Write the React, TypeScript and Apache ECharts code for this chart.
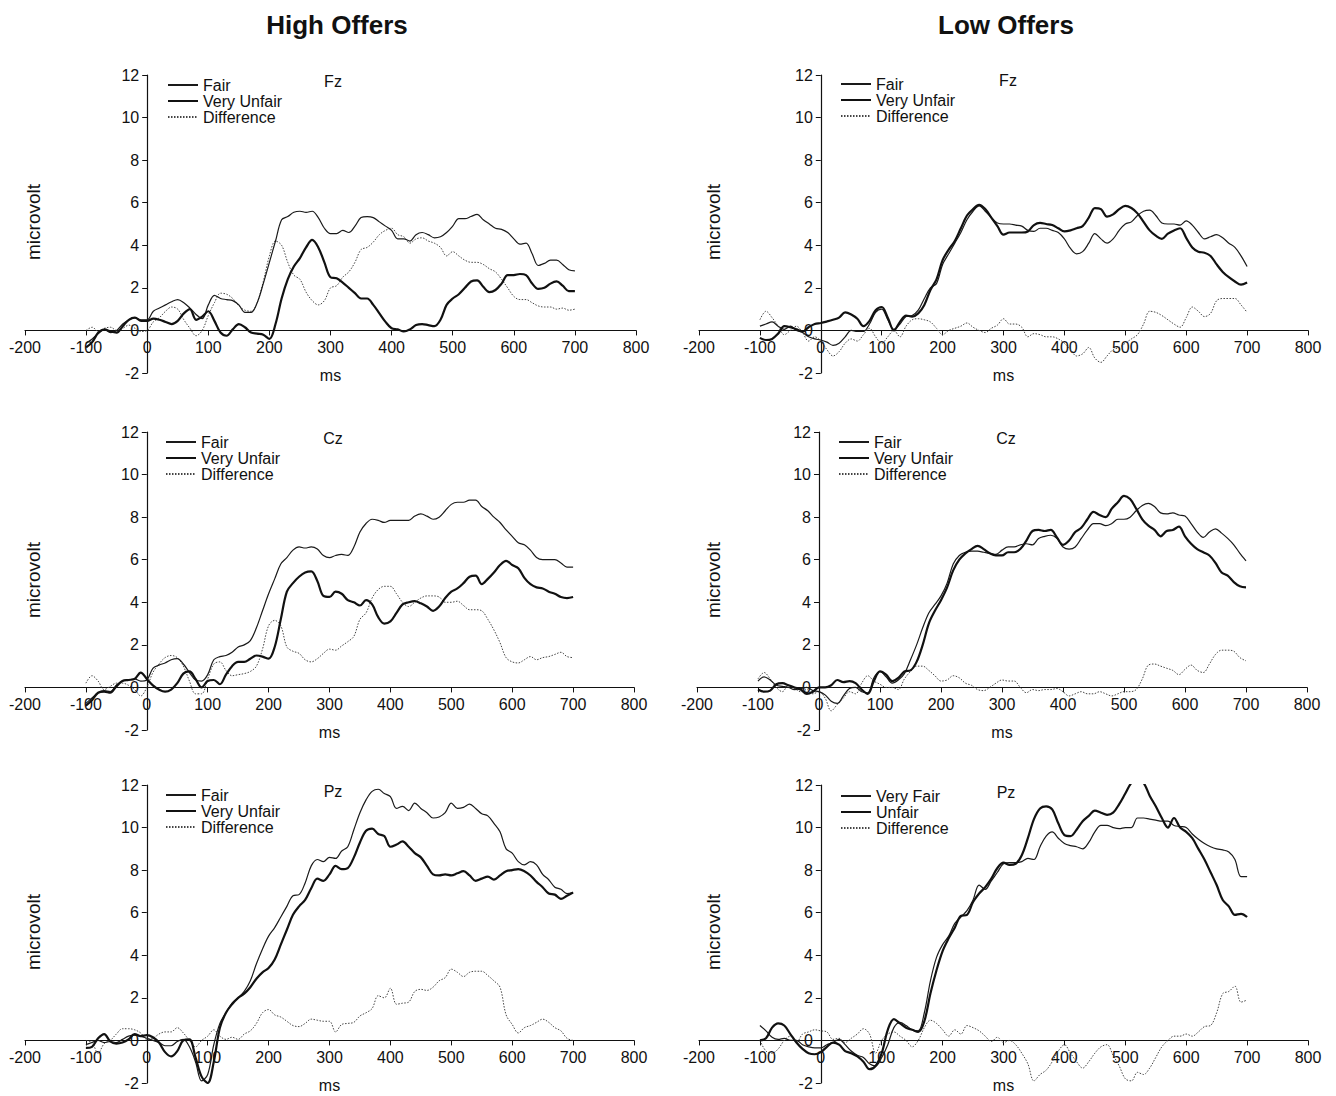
import React, { useEffect, useRef } from "react";
import * as echarts from "echarts";

// sampling times (ms), -100 .. 700 every 10 ms
const times: number[] = [];
for (let t = -100; t <= 700; t += 10) times.push(t);

const xTicks = { min: -200, max: 800, interval: 100 };
const yTicks = { min: -2, max: 12, interval: 2 };

const columnTitles = ["High Offers", "Low Offers"];
const electrodes = ["Fz", "Fz", "Cz", "Cz", "Pz", "Pz"];

// ---------- High Offers, Fz ----------
const hoFzFair = [
  -0.6, -0.4, -0.15, 0.05, -0.1, 0.0, 0.3, 0.5, 0.6, 0.5,
  0.5, 0.9, 1.05, 1.2, 1.35, 1.45, 1.3, 1.05, 0.75, 0.55,
  1.2, 1.65, 1.5, 1.45, 1.4, 1.2, 0.85, 0.85, 1.3, 2.2,
  3.2, 4.2, 5.2, 5.35, 5.55, 5.6, 5.55, 5.6, 5.3, 4.8,
  4.55, 4.55, 4.7, 4.6, 4.9, 5.3, 5.35, 5.3, 5.1, 4.9,
  4.7, 4.3, 4.3, 4.2, 4.5, 4.6, 4.5, 4.35, 4.4, 4.6,
  4.9, 5.25, 5.25, 5.35, 5.45, 5.2, 5.0, 4.8, 4.75, 4.6,
  4.3, 4.05, 4.1, 3.6, 3.05, 3.15, 3.3, 3.3, 3.1, 2.85,
  2.8,
];
const hoFzUnfair = [
  -0.8, -0.55, -0.1, 0.05, -0.05, -0.1, 0.2, 0.5, 0.6, 0.45,
  0.45, 0.55, 0.5, 0.4, 0.3, 0.45, 0.8, 1.0, 0.5, 0.65,
  0.9, 0.45, -0.1, -0.25, 0.05, 0.3, 0.15, -0.1, -0.15, -0.2,
  -0.4, 0.3, 1.5, 2.4, 3.0, 3.4, 3.9, 4.25, 3.9, 3.2,
  2.5, 2.45, 2.25, 2.0, 1.75, 1.5, 1.5, 1.2, 0.8, 0.4,
  0.1, 0.05, -0.05, 0.05, 0.25, 0.3, 0.25, 0.2, 0.5, 1.2,
  1.5, 1.7, 2.0, 2.3, 2.35, 2.05, 1.8, 1.9, 2.2, 2.6,
  2.6, 2.65, 2.6, 2.2, 1.95, 2.0, 2.2, 2.3, 2.1, 1.85,
  1.85,
];
const hoFzDiff = [
  0.0, 0.15, -0.05, 0.1, 0.15, 0.0, 0.1, 0.25, 0.1, -0.05,
  0.0, 0.4, 0.6, 0.9, 1.1, 1.0, 0.5, 0.1, -0.25, 0.0,
  0.7, 1.3, 1.75, 1.7, 1.5, 1.15, 0.95, 0.9, 1.3, 2.3,
  3.5, 4.2, 4.0, 3.2, 2.6, 2.4, 1.8, 1.4, 1.2, 1.4,
  2.0, 2.1, 2.5, 2.75, 3.2, 3.8, 3.9, 4.15, 4.5, 4.7,
  4.8, 4.5, 4.4, 4.1, 4.3, 4.35, 4.2, 4.1, 3.9, 3.5,
  3.7, 3.5, 3.3, 3.2, 3.2, 3.1, 2.9, 2.75, 2.4, 2.0,
  1.6, 1.45, 1.45, 1.3, 1.15, 1.1, 1.1, 1.0, 1.05, 0.95,
  1.0,
];

// ---------- Low Offers, Fz ----------
const loFzFair = [
  0.2, 0.3, 0.4, 0.2, 0.05, 0.2, 0.0, -0.1, -0.3, -0.4,
  -0.45, -0.55, -0.7, -0.6, -0.3, 0.0, -0.05, -0.05, 0.3, 0.85,
  1.0, 0.5, 0.05, 0.3, 0.65, 0.7, 0.95, 1.5, 2.0, 2.2,
  3.1, 3.6, 4.1, 4.6, 5.2, 5.6, 5.85, 5.6, 5.3, 5.05,
  5.0, 5.0, 4.95, 4.9, 4.7, 4.65, 4.8, 4.8, 4.7, 4.6,
  4.3, 3.85, 3.6, 3.7, 4.1, 4.55, 4.3, 4.1, 4.3, 4.7,
  5.0, 5.1, 5.4, 5.6, 5.65, 5.4, 5.05, 5.0, 5.0, 4.95,
  5.15, 4.95, 4.6, 4.3, 4.4, 4.5, 4.35, 4.1, 3.9, 3.5,
  3.0,
];
const loFzUnfair = [
  -0.35, -0.45, -0.4, -0.15, 0.2, 0.15, 0.05, -0.05, 0.15, 0.3,
  0.35, 0.42, 0.5, 0.6, 0.85, 0.75, 0.55, 0.2, 0.45, 0.95,
  1.1, 0.6, 0.0, 0.4, 0.7, 0.65, 0.8, 1.2, 1.9, 2.4,
  3.3, 3.8, 4.2, 4.8, 5.4, 5.7, 5.9, 5.7, 5.3, 4.9,
  4.5, 4.6, 4.6, 4.6, 4.65, 4.95, 5.05, 5.0, 4.95, 4.8,
  4.65, 4.7, 4.8, 4.9, 5.3, 5.75, 5.7, 5.35, 5.45, 5.7,
  5.85, 5.75, 5.5, 5.1, 4.7, 4.45, 4.3, 4.55, 4.7, 4.8,
  4.35, 3.9, 3.7, 3.65, 3.5, 3.1, 2.75, 2.5, 2.3, 2.15,
  2.25,
];
const loFzDiff = [
  0.5, 0.9, 0.6, 0.2, -0.2, 0.0, 0.2, -0.1, -0.5, -0.3,
  -0.5, -0.9, -1.2, -1.0, -0.6, -0.4, -0.5, -0.2, 0.1, -0.3,
  -0.6, -0.3, 0.0, -0.3, 0.2, 0.5, 0.55, 0.5, 0.4, 0.1,
  -0.2, 0.0, 0.1, 0.2, 0.35, 0.15, 0.0, -0.1, 0.1, 0.25,
  0.55, 0.3, 0.3, 0.15, -0.3, -0.15, -0.2, -0.3, -0.3, -0.4,
  -0.6, -0.9, -1.2, -1.1, -0.8, -1.3, -1.5, -1.2, -0.9, -0.8,
  -0.6, -0.4, -0.2, 0.3, 0.9, 0.85, 0.7, 0.5, 0.3, 0.15,
  0.6, 1.1, 0.9, 0.65, 0.8, 1.4, 1.5, 1.5, 1.5, 1.2,
  0.85,
];

// ---------- High Offers, Cz ----------
const hoCzFair = [
  -0.75, -0.5, -0.25, -0.15, -0.2, 0.1, 0.3, 0.35, 0.4, 0.3,
  0.35, 0.9, 1.05, 1.15, 1.3, 1.35, 1.1, 0.7, 0.35, 0.3,
  0.6, 1.3, 1.45, 1.5, 1.65, 1.9, 2.0, 2.2, 2.8, 3.6,
  4.4, 5.1, 5.8, 6.1, 6.45, 6.6, 6.55, 6.6, 6.5, 6.2,
  6.1, 6.2, 6.25, 6.2, 6.6, 7.3, 7.7, 7.9, 7.85, 7.75,
  7.85, 7.85, 7.85, 7.85, 8.05, 8.15, 8.05, 7.9, 8.0, 8.3,
  8.6, 8.7, 8.7, 8.8, 8.8, 8.5, 8.3, 8.0, 7.75, 7.4,
  7.1, 6.8, 6.7, 6.45, 6.1, 6.0, 6.0, 6.0, 5.85, 5.65,
  5.65,
];
const hoCzUnfair = [
  -0.85, -0.6, -0.25, -0.2, -0.25, 0.05, 0.3, 0.35, 0.4, 0.7,
  0.4, 0.1, -0.1, -0.2, -0.1, 0.2, 0.65, 0.75, 0.4, 0.0,
  0.3, 0.35, 0.15, 0.6, 1.0, 1.2, 1.2, 1.35, 1.5, 1.45,
  1.35, 1.9, 3.2, 4.5, 4.9, 5.2, 5.4, 5.45, 5.0, 4.3,
  4.25, 4.5, 4.4, 4.1, 4.0, 3.85, 4.1, 3.9, 3.3, 3.0,
  3.1, 3.5, 3.9, 4.0, 4.05, 3.95, 3.8, 3.6, 3.8, 4.2,
  4.5, 4.65, 4.9, 5.2, 5.25, 4.85, 5.1, 5.4, 5.75, 5.95,
  5.75, 5.6, 5.15, 4.85, 4.7, 4.65, 4.5, 4.4, 4.25, 4.2,
  4.25,
];
const hoCzDiff = [
  0.2, 0.55, 0.3, -0.1, 0.05, 0.2, 0.2, 0.1, -0.1, -0.4,
  0.0, 0.7, 1.1, 1.4, 1.5, 1.4, 1.0, 0.3, -0.3, -0.3,
  0.4, 1.1, 1.2, 0.8, 0.55, 0.6, 0.65, 0.75, 1.0, 1.8,
  2.9, 3.15, 2.9, 1.9, 1.7, 1.6, 1.3, 1.2, 1.35, 1.6,
  1.8, 1.75, 1.95, 2.15, 2.4, 3.2, 3.5, 4.2, 4.6, 4.75,
  4.75, 4.4, 4.0, 3.8, 4.0, 4.2, 4.3, 4.3, 4.25, 4.0,
  4.0, 4.05, 3.85, 3.65, 3.65, 3.6, 3.2, 2.7, 2.1, 1.4,
  1.2, 1.15, 1.3, 1.45, 1.3, 1.4, 1.45, 1.55, 1.65, 1.45,
  1.4,
];

// ---------- Low Offers, Cz ----------
const loCzFair = [
  0.3, 0.5, 0.35, 0.1, 0.05, 0.0, -0.1, -0.05, 0.0, -0.15,
  -0.2, -0.35, -0.65, -0.75, -0.4, -0.05, 0.0, -0.2, -0.25, 0.45,
  0.75, 0.5, 0.2, 0.35, 0.65, 1.3, 2.0, 2.8, 3.5, 3.9,
  4.3, 4.9, 5.8, 6.2, 6.35, 6.4, 6.4, 6.35, 6.3, 6.25,
  6.45, 6.6, 6.6, 6.7, 6.75, 6.7, 7.0, 7.1, 7.15, 7.0,
  6.6, 6.5, 6.6, 7.0, 7.4, 7.7, 7.7, 7.6, 7.7, 7.9,
  7.9, 8.0, 8.3, 8.55, 8.65, 8.5, 8.2, 8.15, 8.2, 8.1,
  8.05, 7.7, 7.3, 7.05, 7.3, 7.45, 7.25, 7.0, 6.7, 6.3,
  5.95,
];
const loCzUnfair = [
  -0.1, -0.2, -0.15, 0.15, 0.2, 0.1, 0.0, -0.1, -0.3, -0.2,
  0.0, 0.0, 0.1, 0.35, 0.25, 0.3, 0.2, -0.1, -0.3, 0.3,
  0.75, 0.6, 0.3, 0.45, 0.75, 0.8, 1.2, 2.0, 3.0, 3.6,
  4.1, 4.7, 5.5, 6.0, 6.3, 6.5, 6.65, 6.5, 6.3, 6.2,
  6.2, 6.35, 6.35, 6.5, 6.9, 7.35, 7.4, 7.35, 7.4, 7.05,
  6.7, 6.9, 7.3, 7.5, 7.9, 8.25, 8.1, 8.0, 8.4, 8.7,
  9.0, 8.85, 8.4, 7.9, 7.6, 7.4, 7.1, 7.35, 7.4, 7.55,
  7.1, 6.75, 6.5, 6.35, 6.2, 5.85, 5.4, 5.25, 4.95, 4.75,
  4.7,
];
const loCzDiff = [
  0.4, 0.7, 0.4, 0.0, -0.2, 0.1, -0.05, -0.2, -0.1, -0.3,
  -0.2, -0.5, -1.1, -0.8, -0.5, -0.2, -0.3, 0.2, 0.55, 0.3,
  0.15, 0.0, 0.0, -0.1, 0.4, 0.75, 1.0, 1.0, 0.8, 0.55,
  0.3, 0.35, 0.55, 0.45, 0.2, 0.1, -0.1, -0.15, 0.0, 0.2,
  0.35, 0.3, 0.3, 0.0, -0.25, -0.1, -0.15, -0.1, -0.1, -0.05,
  -0.2, -0.4, -0.3, -0.2, -0.3, -0.3, -0.2, -0.3, -0.4, -0.3,
  -0.2, -0.2, -0.1, 0.4, 1.05, 1.1, 1.0, 0.9, 0.8, 0.6,
  0.85, 1.05, 0.8, 0.7, 1.1, 1.55, 1.75, 1.75, 1.7, 1.4,
  1.25,
];

// ---------- High Offers, Pz ----------
const hoPzFair = [
  -0.2, -0.1, 0.0, -0.1, -0.05, -0.1, 0.05, 0.2, 0.25, 0.2,
  0.1, 0.0, -0.1, -0.25, -0.25, -0.05, 0.05, -0.3, -1.0, -1.9,
  -1.6, -0.2, 0.8, 1.3, 1.75, 2.0, 2.3, 2.8, 3.6, 4.3,
  4.9, 5.3, 5.8, 6.3, 6.8, 6.85, 7.4, 8.2, 8.5, 8.4,
  8.6, 8.55, 8.9, 9.1, 9.9, 10.7, 11.3, 11.7, 11.8, 11.6,
  11.45, 10.9, 11.0, 10.8, 11.15, 10.9, 10.7, 10.45, 10.5, 10.7,
  11.15, 10.9, 10.95, 11.1, 10.9, 10.65, 10.55, 10.2, 9.8, 9.0,
  8.8, 8.4, 8.25, 8.4, 8.25, 7.8, 7.55, 7.2, 7.1, 6.9,
  6.95,
];
const hoPzUnfair = [
  -0.35, -0.3, 0.1, 0.3, -0.05, -0.15, -0.1, 0.05, 0.3, 0.2,
  0.25, 0.15, -0.1, -0.55, -0.75, -0.5, 0.0, 0.05, -0.8, -1.7,
  -2.0, -1.0, 0.6, 1.3, 1.7, 2.0, 2.2, 2.5, 2.9, 3.2,
  3.4, 3.8, 4.5, 5.2, 5.9, 6.3, 6.6, 7.15, 7.6, 7.5,
  7.8, 8.2, 8.05, 8.1, 8.6, 9.3, 9.85, 9.95, 9.7, 9.6,
  9.1, 9.2, 9.35, 9.1, 8.8, 8.6, 8.2, 7.8, 7.75, 7.8,
  7.75, 7.85, 7.95, 7.75, 7.5, 7.6, 7.7, 7.55, 7.75, 7.95,
  8.0, 8.05, 7.95, 7.75, 7.45, 7.2, 6.9, 6.85, 6.65, 6.8,
  6.95,
];
const hoPzDiff = [
  0.0, -0.1, -0.6, -0.15, 0.0, 0.3, 0.55, 0.55, 0.5, 0.35,
  0.05, 0.1, 0.3, 0.4, 0.4, 0.6, 0.35, 0.0, -0.3, 0.0,
  0.2, 0.5, 0.2, 0.05, 0.15, 0.05, 0.3, 0.45, 0.8, 1.3,
  1.45, 1.2, 1.1, 0.9, 0.7, 0.65, 0.8, 1.0, 0.95, 0.9,
  0.9, 0.4, 0.75, 0.8, 0.85, 1.15, 1.3, 1.5, 2.1, 2.0,
  2.45, 1.7, 1.75, 1.8, 2.3, 2.4, 2.35, 2.5, 2.8, 2.95,
  3.35, 3.2, 3.0, 3.2, 3.25, 3.25, 3.05, 2.8, 2.5, 1.2,
  0.75, 0.35, 0.6, 0.7, 0.85, 1.0, 0.85, 0.6, 0.45, 0.1,
  0.0,
];

// ---------- Low Offers, Pz ----------
const loPzFair = [
  0.7, 0.45, 0.15, 0.05, 0.1, 0.0, 0.0, -0.2, -0.3, -0.35,
  -0.35, -0.2, -0.1, 0.05, -0.2, -0.5, -0.7, -0.8, -1.1, -1.2,
  -0.8, -0.2, 0.6, 0.85, 0.7, 0.5, 0.45, 1.3, 2.8, 3.9,
  4.5, 4.9, 5.5, 5.8, 6.1, 6.6, 7.3, 7.1, 7.5, 7.9,
  8.3, 8.35, 8.35, 8.4, 8.55, 8.5, 9.1, 9.6, 9.8, 9.5,
  9.25, 9.15, 9.1, 9.0, 9.3, 9.8, 10.1, 10.1, 10.0, 9.95,
  10.0, 10.0, 10.45, 10.45, 10.4, 10.35, 10.3, 10.3, 10.1, 10.05,
  10.0, 9.7, 9.45, 9.25, 9.1, 9.0, 8.95, 8.85, 8.5, 7.7,
  7.7,
];
const loPzUnfair = [
  0.0, 0.1, 0.6, 0.8, 0.7, 0.3, -0.1, -0.4, -0.6, -0.65,
  -0.55, -0.3, -0.1, -0.2, -0.5, -0.6, -0.75, -1.0, -1.35, -1.2,
  -0.6, 0.5, 1.0, 0.8, 0.6, 0.5, 0.4, 0.9, 2.2, 3.3,
  4.2, 4.8, 5.3, 5.85, 5.9, 6.5, 6.9, 7.2, 7.6, 8.1,
  8.35, 8.25, 8.3, 8.7, 9.5, 10.4, 10.9, 11.0, 10.85, 10.2,
  9.65, 9.6, 9.9, 10.3, 10.55, 10.8, 10.7, 10.6, 10.7, 11.1,
  11.6, 12.1, 12.3, 12.1, 11.5, 11.0, 10.45, 10.0, 10.45, 10.0,
  9.8, 9.5, 9.0, 8.5, 7.9, 7.3, 6.6, 6.3, 5.9, 5.95,
  5.8,
];
const loPzDiff = [
  0.0, -0.5, -0.6, -0.4, 0.0, 0.2, -0.1, 0.3, 0.4, 0.5,
  0.45, 0.4, 0.05, 0.1, -0.1, 0.1, 0.3, 0.55, 0.3, -0.6,
  0.0, 0.3, 0.4, 0.2, 0.0, -0.3, 0.0, 0.6, 0.95, 0.8,
  0.5, 0.2, 0.5, 0.3, 0.7, 0.6, 0.45, 0.2, -0.05, 0.15,
  -0.1, 0.0, -0.2, -0.6, -1.1, -1.9, -1.6, -1.4, -1.0, -0.5,
  -0.2, -0.6, -1.0, -1.3, -1.0, -0.6, -0.3, -0.2, -0.7, -1.2,
  -1.8, -1.9, -1.5, -1.6, -1.3, -0.8, -0.3, 0.0, 0.2, 0.2,
  0.3, 0.2, 0.4, 0.65, 0.7, 1.3, 2.2, 2.3, 2.55, 1.8,
  1.9,
];

const legendNames = [
  ["Fair", "Very Unfair", "Difference"],
  ["Fair", "Very Unfair", "Difference"],
  ["Fair", "Very Unfair", "Difference"],
  ["Fair", "Very Unfair", "Difference"],
  ["Fair", "Very Unfair", "Difference"],
  ["Very Fair", "Unfair", "Difference"],
];

const panelData = [
  [hoFzFair, hoFzUnfair, hoFzDiff],
  [loFzFair, loFzUnfair, loFzDiff],
  [hoCzFair, hoCzUnfair, hoCzDiff],
  [loCzFair, loCzUnfair, loCzDiff],
  [hoPzFair, hoPzUnfair, hoPzDiff],
  [loPzFair, loPzUnfair, loPzDiff],
];

// layout (pixels)
const grids = [
  { left: 25, top: 75, width: 611, height: 298 },
  { left: 699, top: 75, width: 609, height: 298 },
  { left: 25, top: 432, width: 609, height: 298 },
  { left: 697, top: 432, width: 610, height: 298 },
  { left: 25, top: 785, width: 609, height: 298 },
  { left: 699, top: 785, width: 609, height: 298 },
];
const legendPos = [
  { left: 167, top: 77 },
  { left: 840, top: 76 },
  { left: 165, top: 434 },
  { left: 838, top: 434 },
  { left: 165, top: 787 },
  { left: 840, top: 788 },
];
const electrodePos = [
  [333, 81], [1008, 80], [333, 438], [1006, 438], [333, 791], [1006, 792],
];
const micro = [
  [33, 222], [713, 222], [33, 580], [713, 580], [33, 932], [713, 932],
];

const FONT = '"Liberation Sans", Arial, Helvetica, sans-serif';

const styles = [
  { width: 1.2, type: "solid" as any, color: "#1a1a1a" },
  { width: 2.2, type: "solid" as any, color: "#111" },
  { width: 1, type: [1.5, 1.5] as any, color: "#444" },
];

function buildOption() {
  const series: any[] = [];
  panelData.forEach((arrs, p) => {
    arrs.forEach((vals, k) => {
      series.push({
        type: "line",
        name: legendNames[p][k],
        xAxisIndex: p,
        yAxisIndex: p,
        data: times.map((t, i) => [t, vals[i]]),
        symbol: "none",
        smooth: 0.35,
        clip: true,
        silent: true,
        z: k === 2 ? 2 : 3,
        lineStyle: { ...styles[k] },
        itemStyle: { color: styles[k].color },
      });
    });
  });

  // axes sit on the zero lines: shift them inward from the grid edges
  const xAxis = grids.map((g, p) => ({
    type: "value",
    gridIndex: p,
    position: "bottom",
    offset: -(g.height * (0 - yTicks.min)) / (yTicks.max - yTicks.min),
    min: xTicks.min,
    max: xTicks.max,
    interval: xTicks.interval,
    name: "ms",
    nameLocation: "middle",
    nameGap: 37,
    nameTextStyle: { fontSize: 16, color: "#111", fontFamily: FONT },
    axisLine: { show: true, onZero: false, lineStyle: { color: "#111", width: 1.2 } },
    axisTick: { show: true, length: 5, lineStyle: { color: "#111" } },
    axisLabel: { fontSize: 16, color: "#111", margin: 9, fontFamily: FONT },
    splitLine: { show: false },
  }));
  const yAxis = grids.map((g, p) => ({
    type: "value",
    gridIndex: p,
    position: "left",
    offset: -(g.width * (0 - xTicks.min)) / (xTicks.max - xTicks.min),
    min: yTicks.min,
    max: yTicks.max,
    interval: yTicks.interval,
    axisLine: { show: true, onZero: false, lineStyle: { color: "#111", width: 1.2 } },
    axisTick: { show: true, length: 5, lineStyle: { color: "#111" } },
    axisLabel: { fontSize: 16, color: "#111", margin: 8, fontFamily: FONT },
    splitLine: { show: false },
  }));

  const legend = legendNames.map((names, p) => ({
    data: names,
    orient: "vertical",
    left: legendPos[p].left,
    top: legendPos[p].top,
    padding: 0,
    itemWidth: 30,
    itemHeight: 12,
    itemGap: 0,
    selectedMode: false,
    itemStyle: { opacity: 0 },
    textStyle: { fontSize: 16, lineHeight: 16, color: "#111", fontFamily: FONT },
  }));

  const graphic: any[] = [];
  columnTitles.forEach((t, i) => {
    graphic.push({
      type: "text",
      x: i === 0 ? 337 : 1006,
      y: 25,
      style: {
        text: t,
        font: `bold 26px ${FONT}`,
        fill: "#111",
        textAlign: "center",
        textVerticalAlign: "middle",
        align: "center",
        verticalAlign: "middle",
      },
    });
  });
  electrodes.forEach((e, p) => {
    graphic.push({
      type: "text",
      x: electrodePos[p][0],
      y: electrodePos[p][1],
      style: {
        text: e,
        font: `16px ${FONT}`,
        fill: "#111",
        textAlign: "center",
        textVerticalAlign: "middle",
        align: "center",
        verticalAlign: "middle",
      },
    });
    graphic.push({
      type: "text",
      x: micro[p][0],
      y: micro[p][1],
      rotation: Math.PI / 2,
      style: {
        text: "microvolt",
        font: `19px ${FONT}`,
        fill: "#111",
        textAlign: "center",
        textVerticalAlign: "middle",
        align: "center",
        verticalAlign: "middle",
      },
    });
  });

  return {
    animation: false,
    backgroundColor: "#ffffff",
    textStyle: { fontFamily: FONT },
    grid: grids.map((g) => ({ ...g, containLabel: false })),
    xAxis,
    yAxis,
    legend,
    graphic,
    series,
  };
}

export default function App() {
  const ref = useRef<HTMLDivElement>(null);
  useEffect(() => {
    if (!ref.current) return;
    const chart = echarts.init(ref.current, undefined, { renderer: "svg" });
    chart.setOption(buildOption() as any);
    return () => chart.dispose();
  }, []);
  return (
    <div
      ref={ref}
      style={{ position: "absolute", left: 0, top: 0, width: 1336, height: 1096, background: "#fff" }}
    />
  );
}
